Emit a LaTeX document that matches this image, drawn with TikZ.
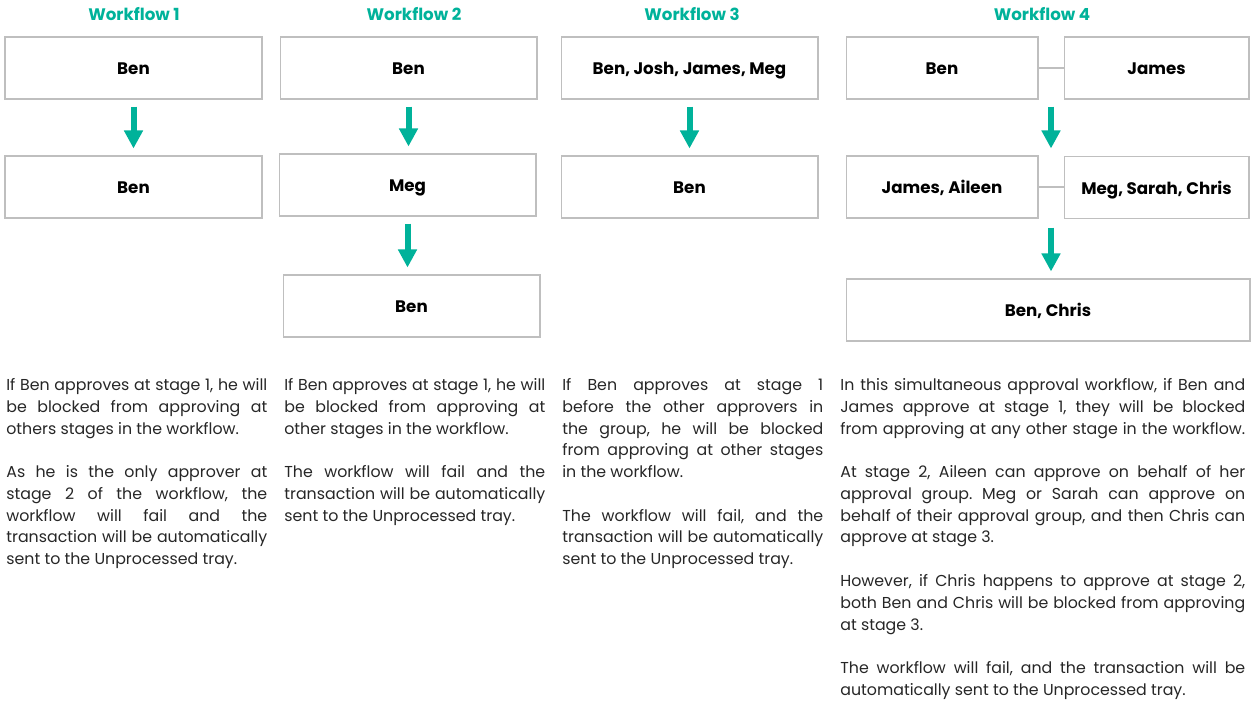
\documentclass[tikz,border=0pt]{standalone}
\usepackage{fontspec}
\setmainfont{Poppins}
\usepackage{tikz}
\usetikzlibrary{calc,arrows.meta}
\definecolor{wfteal}{HTML}{00B29A}
\definecolor{wfgray}{HTML}{BFBFBF}
\definecolor{wftext}{HTML}{262626}
\newcommand{\jline}[2][5.22cm]{\makebox[#1][s]{#2}}
\frenchspacing

\begin{document}
\begin{tikzpicture}[
    x=0.02cm, y=-0.02cm,                 % one unit = one pixel
    approver/.style={
        draw=wfgray,
        line width=0.6pt,
        rectangle,
        minimum width=5.14cm,
        minimum height=1.24cm,
        text height=0.84em,              % same middle for every label
        text depth=0.06em,
        font=\fontsize{9.5}{11}\selectfont\bfseries,
        align=center
    },
    heading/.style={text=wfteal, font=\fontsize{9.5}{11}\selectfont\bfseries},
    notes/.style={anchor=north west, inner sep=0pt, align=left, text=wftext,
        font=\fontsize{9}{12.4}\selectfont},
    stagearrow/.style={wfteal, line width=0.12cm,
        -{Triangle[length=0.36cm,width=0.36cm]},
        shorten <=0.14cm, shorten >=0.14cm},
    link/.style={wfgray, line width=0.6pt}
]
\useasboundingbox (0,0) rectangle (1254,711);

% headings
\node[heading] (h1) at (134,14) {Workflow 1};
\node[heading] (h2) at (414,14) {Workflow 2};
\node[heading] (h3) at (692,14) {Workflow 3};
\node[heading] (h4) at (1042,14) {Workflow 4};

% workflow 1
\node[approver] (a11) at (133.5,68) {Ben};
\node[approver] (a12) at (133.5,187) {Ben};
\draw[stagearrow] (a11) -- (a12);

% workflow 2
\node[approver] (a21) at (408.5,68) {Ben};
\node[approver] (a22) at (407.5,185) {Meg};
\node[approver] (a23) at (411.5,306) {Ben};
\draw[stagearrow] (a21.south) -- (a21.south |- a22.north);
\draw[stagearrow] (a22.south) -- (a22.south |- a23.north);

% workflow 3
\node[approver] (a31) at (689.5,68) {Ben, Josh, James, Meg};
\node[approver] (a32) at (689.5,187) {Ben};
\draw[stagearrow] (a31) -- (a32);

% workflow 4
\node[approver, minimum width=3.84cm] (a41) at (942,68) {Ben};
\node[approver, minimum width=3.70cm] (a42) at (1156.5,68) {James};
\node[approver, minimum width=3.84cm] (a43) at (942,187) {James, Aileen};
\node[approver, minimum width=3.70cm] (a44) at (1156.5,187.5) {Meg, Sarah, Chris};
\node[approver, minimum width=8.08cm] (a45) at (1048,310) {Ben, Chris};
\draw[link] (a41) -- (a42);
\draw[link] (a43.east) -- (a43.east -| a44.west);
\coordinate (g4) at ($(a41.east)!0.5!(a42.west)$);
\draw[stagearrow] (g4 |- a41.south) -- (g4 |- a43.north);
\draw[stagearrow, shorten <=0.18cm] (g4 |- a43.south) -- (g4 |- a45.north);

% notes under each workflow
\node[notes] (n1) at (6,378) {%
\jline{If Ben approves at stage 1, he will}\\
\jline{be blocked from approving at}\\
others stages in the workflow.\\[12.4pt]
\jline{As he is the only approver at}\\
\jline{stage 2 of the workflow, the}\\
\jline{workflow will fail and the}\\
\jline{transaction will be automatically}\\
sent to the Unprocessed tray.};

\node[notes] (n2) at (284,378) {%
\jline{If Ben approves at stage 1, he will}\\
\jline{be blocked from approving at}\\
other stages in the workflow.\\[12.4pt]
\jline{The workflow will fail and the}\\
\jline{transaction will be automatically}\\
sent to the Unprocessed tray.};

\node[notes] (n3) at (562,378) {%
\jline{If Ben approves at stage 1}\\
\jline{before the other approvers in}\\
\jline{the group, he will be blocked}\\
\jline{from approving at other stages}\\
in the workflow.\\[12.4pt]
\jline{The workflow will fail, and the}\\
\jline{transaction will be automatically}\\
sent to the Unprocessed tray.};

\node[notes] (n4) at (840,378) {%
\jline[8.1cm]{In this simultaneous approval workflow, if Ben and}\\
\jline[8.1cm]{James approve at stage 1, they will be blocked}\\
\jline[8.1cm]{from approving at any other stage in the workflow.}\\[12.4pt]
\jline[8.1cm]{At stage 2, Aileen can approve on behalf of her}\\
\jline[8.1cm]{approval group. Meg or Sarah can approve on}\\
\jline[8.1cm]{behalf of their approval group, and then Chris can}\\
approve at stage 3.\\[12.4pt]
\jline[8.1cm]{However, if Chris happens to approve at stage 2,}\\
\jline[8.1cm]{both Ben and Chris will be blocked from approving}\\
at stage 3.\\[12.4pt]
\jline[8.1cm]{The workflow will fail, and the transaction will be}\\
automatically sent to the Unprocessed tray.};

\end{tikzpicture}
\end{document}
